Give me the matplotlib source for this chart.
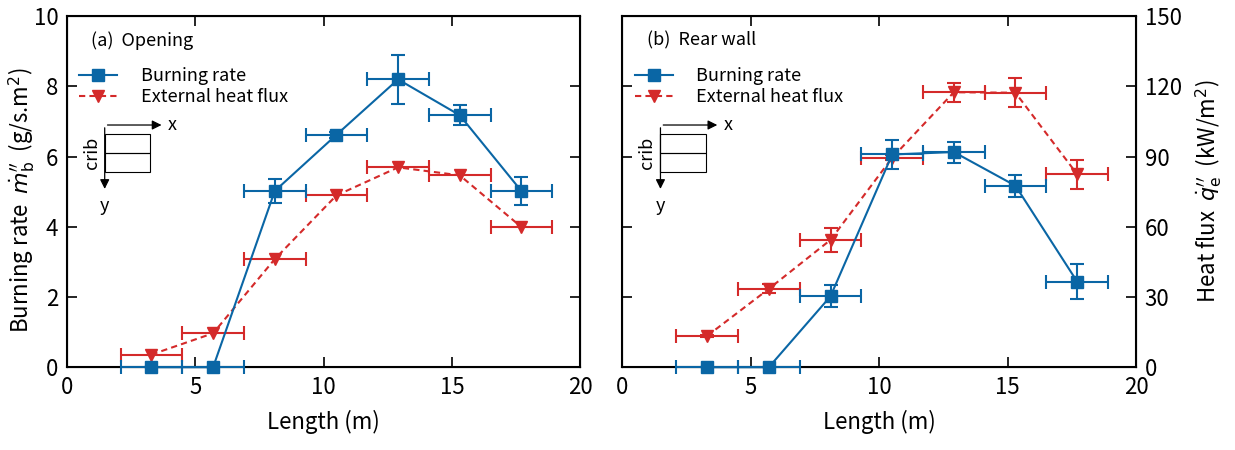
"""Burning rate and external heat flux along the crib, opening vs rear wall."""

import matplotlib
matplotlib.use("Agg")
import matplotlib.pyplot as plt
from matplotlib.lines import Line2D
from matplotlib.patches import Rectangle

plt.rcParams["font.family"] = ["Noto Sans CJK SC", "DejaVu Sans"]
plt.rcParams["mathtext.fontset"] = "dejavusans"

# ── data ────────────────────────────────────────────────────────────────
length = [3.3, 5.7, 8.1, 10.5, 12.9, 15.3, 17.7]
length_err = [1.2, 1.2, 1.2, 1.2, 1.2, 1.2, 1.2]

# (a) opening
open_burn = [0.0, 0.0, 5.02, 6.62, 8.2, 7.18, 5.02]
open_burn_err = [0.0, 0.0, 0.35, 0.08, 0.7, 0.28, 0.4]
open_flux = [5.4, 14.5, 46.2, 73.4, 85.4, 82.0, 59.9]  # kW/m2

# (b) rear wall
rear_burn = [0.0, 0.0, 2.02, 6.06, 6.13, 5.17, 2.44]
rear_burn_err = [0.0, 0.0, 0.31, 0.4, 0.3, 0.31, 0.49]
rear_flux = [13.4, 33.5, 54.4, 89.5, 117.5, 117.3, 82.5]  # kW/m2
rear_flux_err = [0.5, 2.0, 5.0, 1.0, 4.0, 6.3, 6.2]

BLUE = "#0a66a5"
RED = "#d42a2a"
DASH = (0, (3, 2))
FS_TICK = 16
FS_TEXT = 13


def _style(ax):
    ax.set_xlim(0, 20)
    ax.set_xticks([0, 5, 10, 15, 20])
    ax.tick_params(direction="in", length=7, width=1.2, labelsize=FS_TICK,
                   top=True, pad=6)
    for sp in ax.spines.values():
        sp.set_linewidth(1.5)
    ax.set_xlabel("Length (m)", fontsize=FS_TICK, labelpad=8)


def _crib(ax):
    # small schematic of the crib and x/y directions
    x0, y0 = 0.074, 0.69
    ax.annotate("", xy=(0.19, y0), xytext=(x0, y0), xycoords="axes fraction",
                arrowprops=dict(arrowstyle="-|>", color="black", lw=0.9,
                                mutation_scale=14))
    ax.annotate("", xy=(x0, 0.50), xytext=(x0, y0), xycoords="axes fraction",
                arrowprops=dict(arrowstyle="-|>", color="black", lw=0.9,
                                mutation_scale=14))
    ax.text(0.197, y0, "x", transform=ax.transAxes, fontsize=FS_TEXT,
            va="center", ha="left")
    ax.text(x0, 0.485, "y", transform=ax.transAxes, fontsize=FS_TEXT,
            va="top", ha="center")
    ax.add_patch(Rectangle((x0, 0.555), 0.089, 0.054, transform=ax.transAxes,
                           fill=False, lw=0.8, ec="black"))
    ax.add_patch(Rectangle((x0, 0.609), 0.089, 0.054, transform=ax.transAxes,
                           fill=False, lw=0.8, ec="black"))
    ax.text(x0 - 0.008, 0.61, "crib", transform=ax.transAxes, fontsize=FS_TEXT,
            rotation=90, va="center", ha="right")


def _panel(ax, burn, burn_err, flux, flux_err, label):
    axr = ax.twinx()
    axr.set_ylim(0, 150)
    ax.set_ylim(0, 10)
    _style(ax)
    axr.tick_params(direction="in", length=7, width=1.2, labelsize=FS_TICK, pad=6)

    ax.errorbar(length, burn, xerr=length_err, yerr=burn_err, color=BLUE,
                marker="s", ms=9, lw=1.5, elinewidth=1.5, capsize=5,
                capthick=1.5, clip_on=False, zorder=4)
    hf = axr.errorbar(length, flux, xerr=length_err, yerr=flux_err, color=RED,
                      marker="v", ms=9, lw=1.5, ls=DASH, elinewidth=1.5,
                      capsize=5, capthick=1.5, zorder=3)
    for bar in hf[-1]:
        bar.set_linestyle("-")

    ax.set_zorder(axr.get_zorder() + 1)
    ax.patch.set_visible(False)

    ax.text(0.047, 0.93, label, transform=ax.transAxes, fontsize=FS_TEXT,
            va="center", ha="left")
    handles = [
        Line2D([], [], color=BLUE, marker="s", ms=8, lw=1.5),
        Line2D([], [], color=RED, marker="v", ms=8, lw=1.5, ls=DASH),
    ]
    ax.legend(handles, ["Burning rate", "External heat flux"], loc="upper left",
              bbox_to_anchor=(0.0, 0.89), frameon=False, fontsize=FS_TEXT,
              handlelength=2.1, handletextpad=1.3, labelspacing=0.15,
              borderaxespad=0.3)
    _crib(ax)
    return axr


fig = plt.figure(figsize=(12.35, 4.5), dpi=100)
ax1 = fig.add_axes([0.054, 0.184, 0.416, 0.780])
ax2 = fig.add_axes([0.504, 0.184, 0.416, 0.780])

ax1r = _panel(ax1, open_burn, open_burn_err, open_flux, None, "(a)  Opening")
ax2r = _panel(ax2, rear_burn, rear_burn_err, rear_flux, rear_flux_err,
              "(b)  Rear wall")

ax1.set_yticks([0, 2, 4, 6, 8, 10])
ax1.set_ylabel(r"Burning rate  $\dot{m}_{\mathrm{b}}^{\prime\prime}$  (g/s.m$^2$)",
               fontsize=16)
ax1.yaxis.set_label_coords(-0.058, 0.475)
ax1r.set_yticks([0, 30, 60, 90, 120, 150])
ax1r.tick_params(labelright=False)

ax2.set_yticks([0, 2, 4, 6, 8, 10])
ax2.tick_params(labelleft=False)
ax2r.set_yticks([0, 30, 60, 90, 120, 150])
ax2r.set_ylabel(r"Heat flux  $\dot{q}_{\mathrm{e}}^{\prime\prime}$  (kW/m$^2$)",
                fontsize=16, labelpad=8)

fig.savefig("out.png", dpi=100)
